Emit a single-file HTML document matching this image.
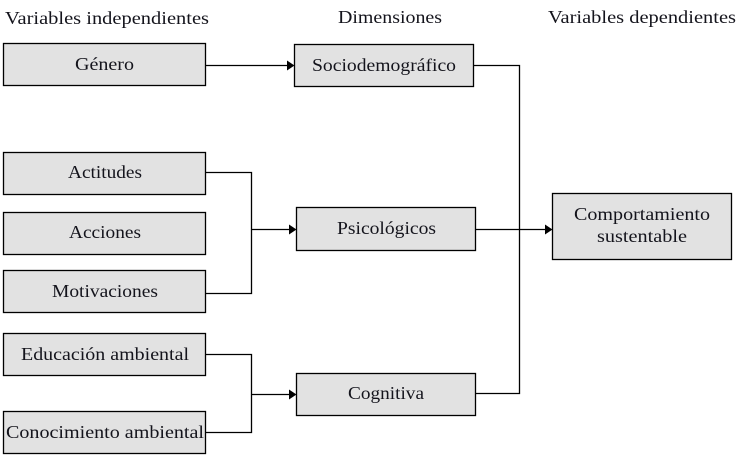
<!DOCTYPE html>
<html lang="es">
<head>
<meta charset="utf-8">
<title>Diagrama</title>
<style>
html,body{margin:0;padding:0;background:#fff;width:739px;height:460px;overflow:hidden}
svg{display:block}
text{font-family:"Liberation Serif",serif;font-size:18px;fill:#14141c}
rect{fill:#e2e2e2;stroke:#000;stroke-width:1.3}
.l{fill:none;stroke:#000;stroke-width:1.3}
.a{fill:#000;stroke:none}
</style>
</head>
<body>
<svg width="739" height="460" viewBox="0 0 739 460" xmlns="http://www.w3.org/2000/svg">
<rect x="3.5" y="43.5" width="202" height="42"/>
<rect x="3.5" y="152.5" width="202" height="42"/>
<rect x="3.5" y="212.5" width="202" height="42"/>
<rect x="3.5" y="270.5" width="202" height="42"/>
<rect x="3.5" y="333.5" width="202" height="42"/>
<rect x="3.5" y="411.5" width="202" height="42"/>
<rect x="294.5" y="44.5" width="179" height="42"/>
<rect x="296.5" y="207.5" width="179" height="43"/>
<rect x="296.5" y="373.5" width="179" height="42"/>
<rect x="552.5" y="193.5" width="179" height="66"/>

<path class="l" d="M206 65.5H288"/>
<path class="l" d="M474 65.5H519.5V393.5H475"/>
<path class="l" d="M475 229.5H546"/>
<path class="l" d="M206 172.5H251.5V293.5H206"/>
<path class="l" d="M251.5 229.5H290"/>
<path class="l" d="M206 354.5H251.5V432.5H206"/>
<path class="l" d="M251.5 394.5H290"/>
<polygon class="a" points="287,60.5 294.5,65.5 287,70.5"/>
<polygon class="a" points="289,224.5 296.5,229.5 289,234.5"/>
<polygon class="a" points="289,389.5 296.5,394.5 289,399.5"/>
<polygon class="a" points="545,224.5 552.5,229.5 545,234.5"/>

<text x="5" y="24" textLength="204" lengthAdjust="spacingAndGlyphs">Variables independientes</text>
<text x="338" y="23" textLength="104" lengthAdjust="spacingAndGlyphs">Dimensiones</text>
<text x="548" y="23" textLength="188" lengthAdjust="spacingAndGlyphs">Variables dependientes</text>
<text x="75" y="70" textLength="59" lengthAdjust="spacingAndGlyphs">Género</text>
<text x="68" y="178" textLength="74" lengthAdjust="spacingAndGlyphs">Actitudes</text>
<text x="69" y="238" textLength="72" lengthAdjust="spacingAndGlyphs">Acciones</text>
<text x="52" y="297" textLength="106" lengthAdjust="spacingAndGlyphs">Motivaciones</text>
<text x="21" y="360" textLength="168" lengthAdjust="spacingAndGlyphs">Educación ambiental</text>
<text x="6" y="438" textLength="198" lengthAdjust="spacingAndGlyphs">Conocimiento ambiental</text>
<text x="312" y="71" textLength="144" lengthAdjust="spacingAndGlyphs">Sociodemográfico</text>
<text x="337" y="234" textLength="99" lengthAdjust="spacingAndGlyphs">Psicológicos</text>
<text x="348" y="399" textLength="76" lengthAdjust="spacingAndGlyphs">Cognitiva</text>
<text x="574" y="220" textLength="136" lengthAdjust="spacingAndGlyphs">Comportamiento</text>
<text x="597" y="242" textLength="90" lengthAdjust="spacingAndGlyphs">sustentable</text>
</svg>
</body>
</html>
